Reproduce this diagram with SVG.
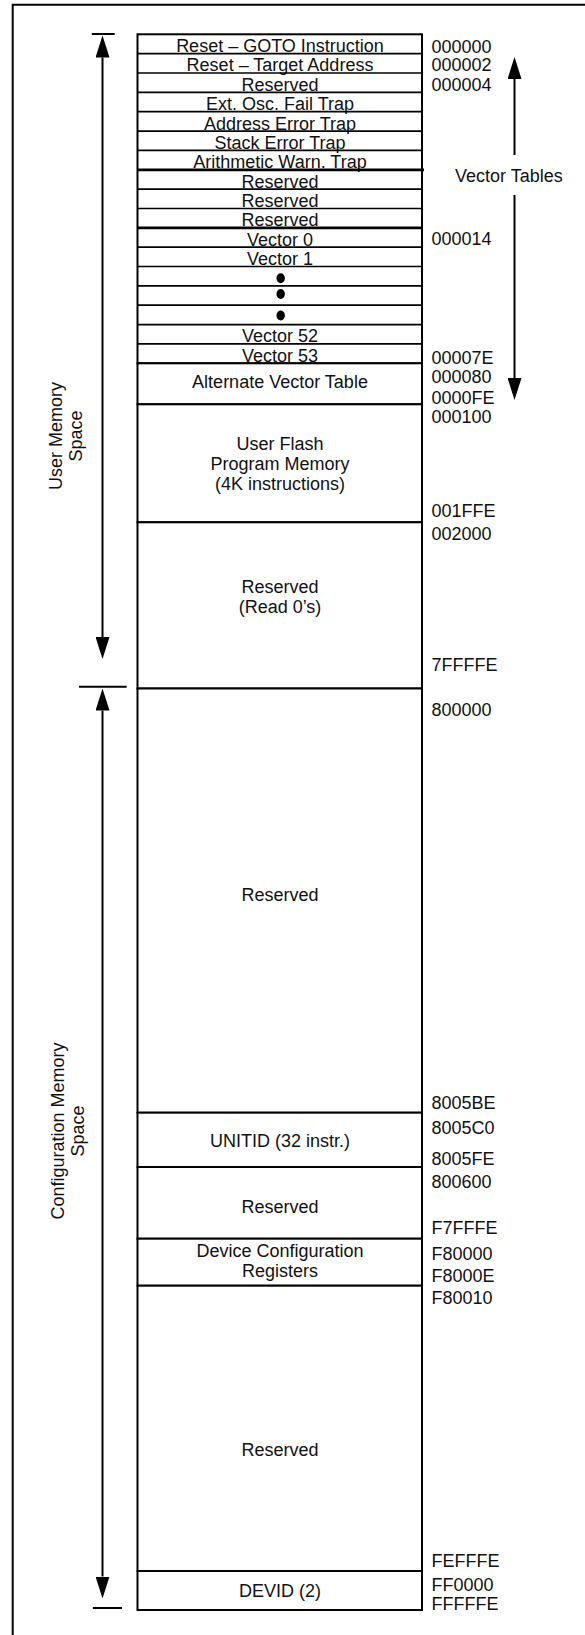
<svg xmlns="http://www.w3.org/2000/svg" width="585" height="1635" viewBox="0 0 585 1635">
<defs>
<style>
text{font-family:"Liberation Sans",Arial,Helvetica,sans-serif;font-size:18px;fill:#111}
.c{text-anchor:middle}
.a{text-anchor:start}
.box{fill:#fff;stroke:#000;stroke-width:2}
.sep{stroke:#000;stroke-width:1.7;fill:none}
.thk{stroke:#000;stroke-width:2.8;fill:none}
.ln{stroke:#000;stroke-width:2;fill:none}
.dot{fill:#000}
</style>
<marker id="ah" viewBox="0 0 22 14" refX="0" refY="7" markerWidth="22" markerHeight="14" markerUnits="userSpaceOnUse" orient="auto-start-reverse">
<path d="M0,0 L22,7 L0,14 z" fill="#000"/>
</marker>
</defs>
<rect width="585" height="1635" fill="#fff"/>
<path d="M12.7,1635 V4.7 H585" class="ln"/>

<g id="vector-rows">
<rect x="137.5" y="34.3" width="284.5" height="329" class="box"/>
<g id="row-reset-goto"><text class="c" x="280" y="52.2">Reset – GOTO Instruction</text></g>
<line class="sep" x1="137.5" y1="53.65" x2="422" y2="53.65"/>
<g id="row-reset-target"><text class="c" x="280" y="71.4">Reset – Target Address</text></g>
<line class="sep" x1="137.5" y1="73" x2="422" y2="73"/>
<g id="row-reserved-1"><text class="c" x="280" y="90.8">Reserved</text></g>
<line class="sep" x1="137.5" y1="92.36" x2="422" y2="92.36"/>
<g id="row-osc"><text class="c" x="280" y="110.1">Ext. Osc. Fail Trap</text></g>
<line class="sep" x1="137.5" y1="111.7" x2="422" y2="111.7"/>
<g id="row-addr"><text class="c" x="280" y="129.5">Address Error Trap</text></g>
<line class="sep" x1="137.5" y1="131.07" x2="422" y2="131.07"/>
<g id="row-stack"><text class="c" x="280" y="148.8">Stack Error Trap</text></g>
<line class="sep" x1="137.5" y1="150.42" x2="422" y2="150.42"/>
<g id="row-arith"><text class="c" x="280" y="168.2">Arithmetic Warn. Trap</text></g>
<line class="thk" x1="137.5" y1="169.8" x2="424" y2="169.8"/>
<g id="row-reserved-2"><text class="c" x="280" y="187.5">Reserved</text></g>
<line class="sep" x1="137.5" y1="189.1" x2="422" y2="189.1"/>
<g id="row-reserved-3"><text class="c" x="280" y="206.9">Reserved</text></g>
<line class="sep" x1="137.5" y1="208.5" x2="422" y2="208.5"/>
<g id="row-reserved-4"><text class="c" x="280" y="226.2">Reserved</text></g>
<line class="thk" x1="137.5" y1="227.8" x2="422" y2="227.8"/>
<g id="row-vector0"><text class="c" x="280" y="245.6">Vector 0</text></g>
<line class="sep" x1="137.5" y1="247.2" x2="422" y2="247.2"/>
<g id="row-vector1"><text class="c" x="280" y="264.9">Vector 1</text></g>
<line class="sep" x1="137.5" y1="266.5" x2="422" y2="266.5"/>
<g id="row-dot-1"><ellipse class="dot" cx="280.7" cy="278.3" rx="4.2" ry="5"/></g>
<line class="sep" x1="137.5" y1="285.9" x2="422" y2="285.9"/>
<g id="row-dot-2"><ellipse class="dot" cx="280.7" cy="294" rx="4.2" ry="5"/></g>
<line class="sep" x1="137.5" y1="305.2" x2="422" y2="305.2"/>
<g id="row-dot-3"><ellipse class="dot" cx="280.7" cy="315.5" rx="4.2" ry="5"/></g>
<line class="sep" x1="137.5" y1="324.6" x2="422" y2="324.6"/>
<g id="row-vector52"><text class="c" x="280" y="342">Vector 52</text></g>
<line class="sep" x1="137.5" y1="343.95" x2="422" y2="343.95"/>
<g id="row-vector53"><text class="c" x="280" y="361.5">Vector 53</text></g>
</g>

<g id="alt-vector-table">
<rect x="137.5" y="363.3" width="284.5" height="41" class="box"/>
<text class="c" x="280" y="388">Alternate Vector Table</text>
</g>
<g id="user-flash">
<rect x="137.5" y="404.3" width="284.5" height="118" class="box"/>
<text class="c" x="280" y="450">User Flash</text>
<text class="c" x="280" y="470">Program Memory</text>
<text class="c" x="280" y="490">(4K instructions)</text>
</g>
<g id="reserved-read0">
<rect x="137.5" y="522.3" width="284.5" height="166.2" class="box"/>
<text class="c" x="280" y="593.3">Reserved</text>
<text class="c" x="280" y="613">(Read 0’s)</text>
</g>
<g id="reserved-config">
<rect x="137.5" y="688.5" width="284.5" height="424.2" class="box"/>
<text class="c" x="280" y="901">Reserved</text>
</g>
<g id="unitid">
<rect x="137.5" y="1112.7" width="284.5" height="54.3" class="box"/>
<text class="c" x="280" y="1147">UNITID (32 instr.)</text>
</g>
<g id="reserved-2">
<rect x="137.5" y="1167" width="284.5" height="71.7" class="box"/>
<text class="c" x="280" y="1213.3">Reserved</text>
</g>
<g id="device-config">
<rect x="137.5" y="1238.7" width="284.5" height="47" class="box"/>
<text class="c" x="280" y="1256.7">Device Configuration</text>
<text class="c" x="280" y="1277.3">Registers</text>
</g>
<g id="reserved-3">
<rect x="137.5" y="1285.7" width="284.5" height="285.3" class="box"/>
<text class="c" x="280" y="1456">Reserved</text>
</g>
<g id="devid">
<rect x="137.5" y="1571" width="284.5" height="39" class="box"/>
<text class="c" x="280" y="1597">DEVID (2)</text>
</g>

<g id="addresses">
<text class="a" x="431.5" y="52.7">000000</text>
<text class="a" x="431.5" y="71">000002</text>
<text class="a" x="431.5" y="90.7">000004</text>
<text class="a" x="431.5" y="245">000014</text>
<text class="a" x="431.5" y="363.5">00007E</text>
<text class="a" x="431.5" y="383.3">000080</text>
<text class="a" x="431.5" y="404">0000FE</text>
<text class="a" x="431.5" y="423.3">000100</text>
<text class="a" x="431.5" y="516.7">001FFE</text>
<text class="a" x="431.5" y="540">002000</text>
<text class="a" x="431.5" y="671">7FFFFE</text>
<text class="a" x="431.5" y="716">800000</text>
<text class="a" x="431.5" y="1109">8005BE</text>
<text class="a" x="431.5" y="1134">8005C0</text>
<text class="a" x="431.5" y="1165">8005FE</text>
<text class="a" x="431.5" y="1187.7">800600</text>
<text class="a" x="431.5" y="1234">F7FFFE</text>
<text class="a" x="431.5" y="1260">F80000</text>
<text class="a" x="431.5" y="1281.7">F8000E</text>
<text class="a" x="431.5" y="1304">F80010</text>
<text class="a" x="431.5" y="1567">FEFFFE</text>
<text class="a" x="431.5" y="1590.7">FF0000</text>
<text class="a" x="431.5" y="1610">FFFFFE</text>
</g>

<g id="vector-tables-label">
<text class="a" x="455" y="181.7">Vector Tables</text>
</g>
<g id="user-memory-label">
<text class="c" transform="translate(62,436) rotate(-90)">User Memory</text>
<text class="c" transform="translate(82,436) rotate(-90)">Space</text>
</g>
<g id="config-memory-label">
<text class="c" transform="translate(64,1131) rotate(-90)">Configuration Memory</text>
<text class="c" transform="translate(84,1131) rotate(-90)">Space</text>
</g>

<g id="connectors">
<line class="ln" x1="91.8" y1="34" x2="114.7" y2="34"/>
<line class="ln" x1="102.5" y1="57.5" x2="102.5" y2="637" marker-start="url(#ah)" marker-end="url(#ah)"/>
<line class="ln" x1="79" y1="686.7" x2="126.7" y2="686.7"/>
<line class="ln" x1="102.5" y1="710.5" x2="102.5" y2="1576.5" marker-start="url(#ah)" marker-end="url(#ah)"/>
<line class="ln" x1="92.8" y1="1608" x2="122" y2="1608"/>
<line class="ln" x1="514.5" y1="155" x2="514.5" y2="79" marker-end="url(#ah)"/>
<line class="ln" x1="514.5" y1="195" x2="514.5" y2="378" marker-end="url(#ah)"/>
</g>
</svg>
